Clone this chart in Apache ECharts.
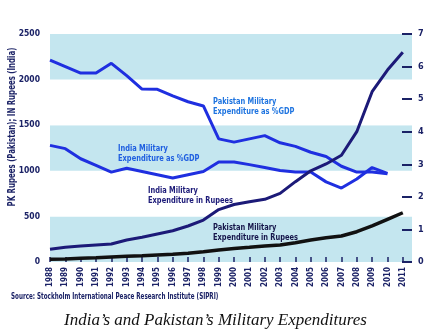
<!DOCTYPE html>
<html>
<head>
<meta charset="utf-8">
<script src="https://cdn.jsdelivr.net/npm/echarts@6/dist/echarts.min.js"></script>
<style>
  html, body { margin: 0; padding: 0; background: #fff; }
  #chart { width: 431px; height: 336px; }
</style>
</head>
<body>
<div id="chart"></div>
<script>
// Years on the horizontal axis
const years = [1988, 1989, 1990, 1991, 1992, 1993, 1994, 1995, 1996, 1997, 1998, 1999,
               2000, 2001, 2002, 2003, 2004, 2005, 2006, 2007, 2008, 2009, 2010, 2011];

// Military expenditure as share of GDP (%), 1988-2010 (right axis)
const pakistanGdp = [6.2, 6.0, 5.8, 5.8, 6.1, 5.72, 5.31, 5.3, 5.1, 4.92, 4.79, 3.78,
                     3.68, 3.78, 3.88, 3.66, 3.55, 3.37, 3.24, 2.94, 2.76, 2.76, 2.71];
const indiaGdp = [3.58, 3.48, 3.17, 2.97, 2.76, 2.88, 2.78, 2.68, 2.58, 2.68, 2.78, 3.07,
                  3.07, 2.99, 2.9, 2.81, 2.76, 2.76, 2.46, 2.27, 2.55, 2.9, 2.72];

// Military expenditure in rupees, 1988-2011 (left axis)
const indiaRupees = [139, 161, 175, 186, 197, 241, 271, 307, 343, 395, 460, 575,
                     630, 661, 687, 753, 881, 1000, 1075, 1170, 1429, 1867, 2105, 2300];
const pakistanRupees = [30, 33, 40, 47, 55, 62, 69, 77, 84, 97, 112, 132,
                        148, 161, 175, 186, 212, 241, 267, 285, 332, 395, 468, 540];

// Tick labels
const leftTicks = [0, 500, 1000, 1500, 2000, 2500];
const rightTicks = [0, 1, 2, 3, 4, 5, 6, 7];

// Series annotations: text lines and their placement
const annotations = [
  { lines: ['Pakistan Military', 'Expenditure as %GDP'], x: 213, y: 97, color: '#1e74e0' },
  { lines: ['India Military', 'Expenditure as %GDP'], x: 118, y: 144, color: '#1e5ee0' },
  { lines: ['India Military', 'Expenditure in Rupees'], x: 148, y: 186, color: '#1c1a78' },
  { lines: ['Pakistan Military', 'Expenditure in Rupees'], x: 213, y: 223, color: '#15154a' }
];

const NAVY = '#1b2266';
const LABEL_FONT = '"Liberation Sans Narrow", "DejaVu Sans Condensed", sans-serif';
const NARROW = 0.78; // horizontal squeeze for the condensed lettering

const pairs = (vals) => vals.map((v, i) => [years[i], v]);

const annotationGraphics = [];
annotations.forEach((a) => {
  a.lines.forEach((line, i) => {
    annotationGraphics.push({
      type: 'text', x: a.x, y: a.y + i * 10, z: 100, scaleX: NARROW,
      style: { text: line, fill: a.color, fontFamily: LABEL_FONT, fontWeight: 'bold', fontSize: 9.5,
               verticalAlign: 'top' }
    });
  });
});

const chart = echarts.init(document.getElementById('chart'), null, { renderer: 'canvas' });

chart.setOption({
  animation: false,
  backgroundColor: '#fff',
  grid: { left: 50, right: 19, top: 34, bottom: 74, outerBoundsMode: 'none', containLabel: false },
  xAxis: {
    type: 'value',
    min: years[0],
    max: 2011.6,
    interval: 1,
    axisLine: { show: false },
    splitLine: { show: false },
    axisTick: {
      show: true, inside: true, length: 5,
      customValues: years,
      lineStyle: { color: NAVY, width: 1.5 }
    },
    axisLabel: {
      customValues: years,
      rotate: 90, margin: 5,
      color: NAVY, fontFamily: LABEL_FONT, fontWeight: 'bold', fontSize: 8,
      formatter: (v) => String(v)
    }
  },
  yAxis: [
    {
      type: 'value', min: leftTicks[0], max: leftTicks[leftTicks.length - 1], interval: 500,
      axisLine: { show: false },
      axisTick: { show: false },
      splitLine: { show: false },
      splitArea: { show: true, areaStyle: { color: ['#c4e6ef', '#ffffff'] } },
      axisLabel: { color: NAVY, fontFamily: LABEL_FONT, fontWeight: 'bold', fontSize: 8.5, margin: 10,
                   formatter: (v) => String(v) }
    },
    {
      type: 'value', min: rightTicks[0], max: rightTicks[rightTicks.length - 1], interval: 1,
      position: 'right',
      axisLine: { show: false },
      axisTick: { show: true, inside: true, length: 10, lineStyle: { color: NAVY, width: 2 } },
      splitLine: { show: false },
      axisLabel: { color: NAVY, fontFamily: LABEL_FONT, fontWeight: 'bold', fontSize: 9, margin: 6 }
    }
  ],
  series: [
    {
      name: 'Pakistan Military Expenditure as %GDP', type: 'line', yAxisIndex: 1,
      data: pairs(pakistanGdp), symbol: 'none',
      lineStyle: { color: '#1f2fe0', width: 3 }
    },
    {
      name: 'India Military Expenditure as %GDP', type: 'line', yAxisIndex: 1,
      data: pairs(indiaGdp), symbol: 'none',
      lineStyle: { color: '#1f2fe0', width: 3 }
    },
    {
      name: 'India Military Expenditure in Rupees', type: 'line', yAxisIndex: 0,
      data: pairs(indiaRupees), symbol: 'none',
      lineStyle: { color: '#1c1a78', width: 3 }
    },
    {
      name: 'Pakistan Military Expenditure in Rupees', type: 'line', yAxisIndex: 0,
      data: pairs(pakistanRupees), symbol: 'none',
      lineStyle: { color: '#111111', width: 3.5 }
    }
  ],
  graphic: annotationGraphics.concat([
    {
      // left axis title, written bottom-to-top
      type: 'text', x: 12, y: 127, rotation: Math.PI / 2, scaleX: NARROW, z: 100,
      style: { text: 'PK Rupees (Pakistan); IN Rupees (India)', fill: NAVY,
               fontFamily: LABEL_FONT, fontWeight: 'bold', fontSize: 10,
               align: 'center', verticalAlign: 'middle' }
    },
    {
      type: 'text', x: 11, y: 293, scaleX: NARROW, z: 100,
      style: { text: 'Source: Stockholm International Peace Research Institute (SIPRI)', fill: NAVY,
               fontFamily: LABEL_FONT, fontWeight: 'bold', fontSize: 8, verticalAlign: 'top' }
    },
    {
      type: 'text', left: 'center', top: 312, z: 100,
      style: { text: 'India\u2019s and Pakistan\u2019s Military Expenditures', fill: '#111',
               font: 'italic 17px "Liberation Serif", "DejaVu Serif", serif' }
    }
  ])
});
</script>
</body>
</html>
